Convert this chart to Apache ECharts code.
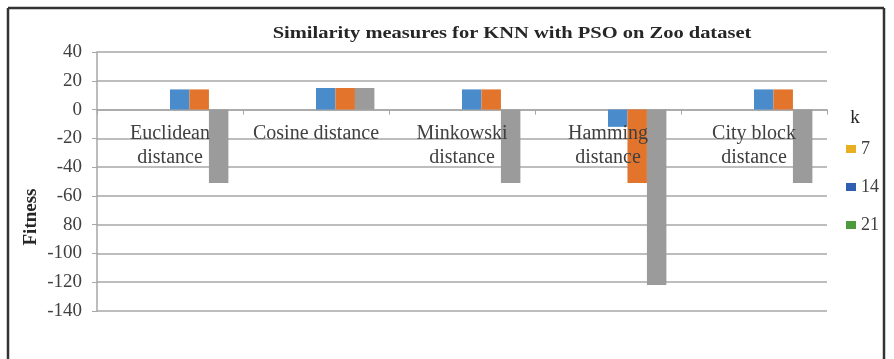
<!DOCTYPE html>
<html>
<head>
<meta charset="utf-8">
<script src="https://cdn.jsdelivr.net/npm/echarts@6/dist/echarts.min.js"></script>
<style>
  html, body { margin: 0; padding: 0; background: #fff; }
  #chart { width: 894px; height: 359px; }
</style>
</head>
<body>
<div id="chart"></div>
<script>
// Fitness of KNN (tuned with PSO) on the Zoo dataset, per similarity measure
const categories = ['Euclidean\ndistance', 'Cosine distance', 'Minkowski\ndistance', 'Hamming\ndistance', 'City block\ndistance'];

// legend entries for k (no bars of their own)
const kNames = ['7', '14', '21'];
const kColors = ['#e8b020', '#2f5fb3', '#4c9a3c'];

// plotted runs
const runA = [14, 15, 14, -12, 14];
const runB = [14, 15, 14, -51, 14];
const runC = [-51, 15, -51, -122, -51];

const yMin = -140, yMax = 40, yStep = 20;
const yTickLabels = ['-140', '-120', '-100', '80', '-60', '-40', '-20', '0', '20', '40'];

const serif = '"Liberation Serif", "Times New Roman", serif';
const chart = echarts.init(document.getElementById('chart'), null, { renderer: 'canvas' });

const gridTop = 52, gridBottom = 48;
const plotH = 359 - gridTop - gridBottom;
// category labels sit just under the zero line
const zeroOffset = -plotH * (0 - yMin) / (yMax - yMin);

const series = [];
kNames.forEach((n, i) => {
  series.push({ name: n, type: 'bar', data: categories.map(() => null), itemStyle: { color: kColors[i] } });
});
[[runA, '#4a8bcb'], [runB, '#e2742c'], [runC, '#9b9b9b']].forEach(([d, c], i) => {
  series.push({ name: 'run' + (i + 1), type: 'bar', data: d, itemStyle: { color: c } });
});
series.forEach(s => { s.barGap = '0%'; s.barCategoryGap = '20%'; s.animation = false; });

chart.setOption({
  animation: false,
  backgroundColor: '#ffffff',
  grid: { left: 97, right: 67, top: gridTop, bottom: gridBottom, containLabel: false, outerBoundsMode: 'none' },
  legend: {
    data: kNames,
    orient: 'vertical',
    left: 841, top: 135,
    itemWidth: 10, itemHeight: 8, itemGap: 20,
    icon: 'rect',
    textStyle: { fontFamily: serif, fontSize: 18, color: '#404040', lineHeight: 16 }
  },
  xAxis: [{
    type: 'category',
    data: categories,
    axisLine: { onZero: true, lineStyle: { color: '#a6a6a6', width: 1.5 } },
    axisTick: { show: true, length: 5, lineStyle: { color: '#a6a6a6' } },
    axisLabel: { show: false },
    splitLine: { show: false }
  }, {
    type: 'category',
    data: categories,
    position: 'bottom',
    offset: zeroOffset,
    z: 10,
    axisLine: { show: false },
    axisTick: { show: false },
    axisLabel: { fontFamily: serif, fontSize: 20, color: '#404040', lineHeight: 24, margin: 12, interval: 0 },
    splitLine: { show: false }
  }],
  yAxis: {
    type: 'value',
    min: yMin, max: yMax, interval: yStep,
    axisLine: { show: true, lineStyle: { color: '#a6a6a6', width: 1.5 } },
    axisTick: { show: true, length: 5, lineStyle: { color: '#a6a6a6' } },
    axisLabel: {
      fontFamily: serif, fontSize: 19, color: '#404040', margin: 15,
      formatter: v => yTickLabels[Math.round((v - yMin) / yStep)]
    },
    splitLine: { show: true, lineStyle: { color: '#bdbdbd', width: 2 } }
  },
  graphic: [
    { type: 'text', x: 512, y: 34, scaleX: 1.28, style: { text: 'Similarity measures for KNN with PSO on Zoo dataset', x: 0, y: 0, align: 'center', verticalAlign: 'middle', fontFamily: serif, fontSize: 16, fontWeight: 'bold', fill: '#262626' } },
    { type: 'text', x: 31, y: 217, rotation: Math.PI / 2, style: { text: 'Fitness', x: 0, y: 0, align: 'center', verticalAlign: 'middle', fontFamily: serif, fontSize: 19, fontWeight: 'bold', fill: '#262626' } },
    { type: 'text', style: { text: 'k', x: 855, y: 118, align: 'center', verticalAlign: 'middle', fontFamily: serif, fontSize: 19, fill: '#262626' } },
    { type: 'line', shape: { x1: 8, y1: 8, x2: 884, y2: 8 }, style: { stroke: '#333', lineWidth: 2.5 } },
    { type: 'line', shape: { x1: 8, y1: 8, x2: 8, y2: 359 }, style: { stroke: '#333', lineWidth: 2.5 } },
    { type: 'line', shape: { x1: 884, y1: 8, x2: 884, y2: 359 }, style: { stroke: '#333', lineWidth: 2.5 } }
  ],
  series: series
});
</script>
</body>
</html>
